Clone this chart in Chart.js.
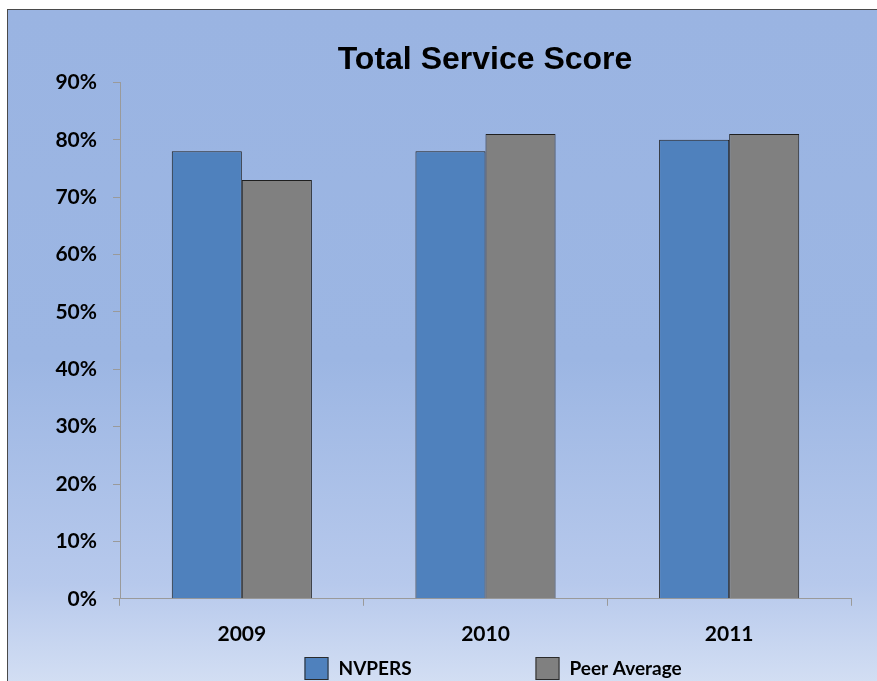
<!DOCTYPE html>
<html>
<head>
<meta charset="utf-8">
<script src="https://cdn.jsdelivr.net/npm/chart.js@4/dist/chart.umd.min.js"></script>
<style>
  body { margin: 0; background: #fff; overflow: hidden; width: 877px; height: 681px; }
  #box {
    position: absolute; left: 7px; top: 9px; width: 960px; height: 700px;
    border-top: 1px solid #4a4a4a; border-left: 1px solid #4a4a4a;
    background: linear-gradient(to bottom, #9ab4e2 0%, #9cb6e3 50%, #b7c9ec 82%, #dae4f5 100%);
  }
  #myChart { position: absolute; left: 0; top: 0; }
</style>
</head>
<body>
<div id="box"><canvas id="myChart" width="954" height="680"></canvas></div>
<script>
let years = ['2009', '2010', '2011']
let nvpers = [78, 78, 80]
let peerAverage = [73, 81, 81]
let yTicks = [0, 10, 20, 30, 40, 50, 60, 70, 80, 90]

const labelFont = { family: 'Lato', weight: 'bold', size: 21 }

// legend drawn by hand so the two items sit far apart like the original
const bottomLegend = {
  id: 'bottomLegend',
  afterDraw(chart) {
    let ctx = chart.ctx
    let area = chart.chartArea
    let top = chart.scales.x.bottom - 6
    let startX = (area.left + area.right) / 2 - 181
    ctx.save()
    ctx.font = 'bold 19px Lato'
    ctx.textBaseline = 'middle'
    ctx.textAlign = 'left'
    chart.data.datasets.forEach((ds, i) => {
      let x = startX + i * 231
      ctx.fillStyle = ds.backgroundColor
      ctx.fillRect(x, top, 24, 23)
      ctx.strokeStyle = '#2a2a2a'
      ctx.lineWidth = 1
      ctx.strokeRect(x + 0.5, top + 0.5, 23, 22)
      ctx.fillStyle = '#000'
      ctx.fillText(ds.label, x + 34, top + 12)
    })
    ctx.restore()
  },
}

const config = {
  type: 'bar',
  data: {
    labels: years,
    datasets: [
      {
        label: 'NVPERS',
        data: nvpers,
        backgroundColor: '#4f81bd',
        borderColor: '#1f1f1f',
        borderWidth: 1,
      },
      {
        label: 'Peer Average',
        data: peerAverage,
        backgroundColor: '#808080',
        borderColor: '#1f1f1f',
        borderWidth: 1,
      },
    ],
  },
  options: {
    responsive: false,
    animation: false,
    layout: { padding: { left: 0, right: 0, top: 0, bottom: 27 } },
    datasets: { bar: { barPercentage: 1, categoryPercentage: 0.575 } },
    plugins: {
      legend: { display: false },
      tooltip: { enabled: false },
      title: {
        display: true,
        text: 'Total Service Score',
        color: '#000',
        font: { family: 'Liberation Sans', weight: 'bold', size: 32 },
        padding: { top: 31, bottom: 3 },
      },
    },
    scales: {
      x: {
        grid: { drawOnChartArea: false, offset: true, tickLength: 7, color: '#9a9a9a' },
        border: { color: '#9a9a9a' },
        ticks: { color: '#000', font: labelFont, padding: 16 },
      },
      y: {
        min: 0,
        max: 90,
        afterBuildTicks: (scale) => {
          scale.ticks = yTicks.map((v) => ({ value: v }))
        },
        afterFit: (scale) => {
          scale.width = 112
        },
        grid: { drawOnChartArea: false, tickLength: 7, color: '#9a9a9a' },
        border: { color: '#9a9a9a' },
        ticks: {
          color: '#000',
          font: labelFont,
          padding: 16,
          callback: (v) => v + '%',
        },
      },
      // empty right-hand axis keeps the right margin so the title centres over the plot
      yRight: {
        position: 'right',
        min: 0,
        max: 90,
        grid: { display: false },
        border: { display: false },
        ticks: { display: false },
        afterFit: (scale) => {
          scale.width = 111
        },
      },
    },
  },
  plugins: [bottomLegend],
}

var myChart = new Chart(document.getElementById('myChart'), config)
</script>
</body>
</html>
